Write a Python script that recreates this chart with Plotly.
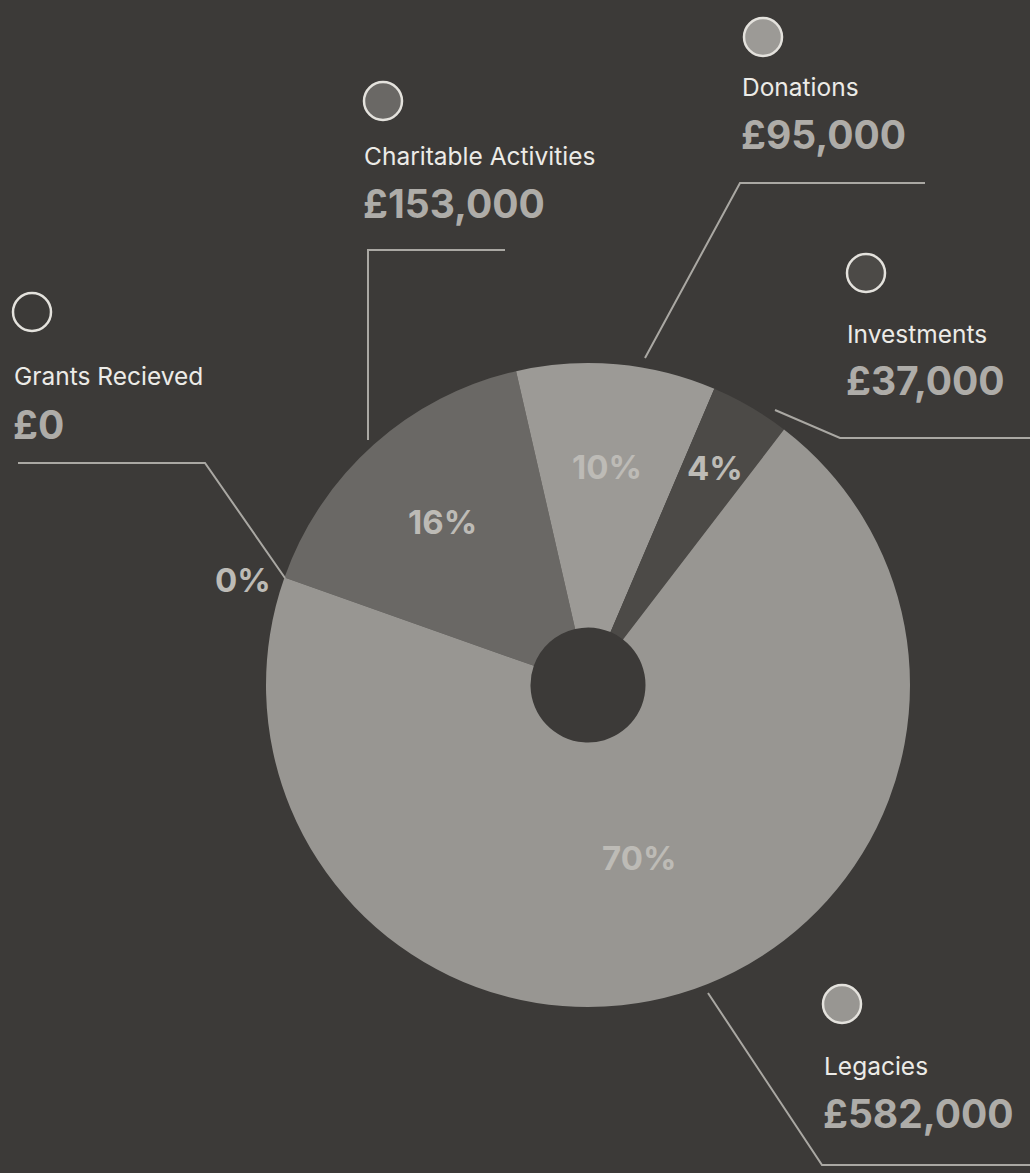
import math
import plotly.graph_objects as go

# Income sources, amounts and their share of the total
CATEGORIES = ["Grants Recieved", "Charitable Activities", "Donations", "Investments", "Legacies"]
AMOUNTS = ["£0", "£153,000", "£95,000", "£37,000", "£582,000"]
SHARES = [0, 16, 10, 4, 70]  # percent

SLICE_COLORS = ["#3c3a38", "#6a6865", "#9c9a96", "#4c4a47", "#989692"]

W, H = 1030, 1173
BG = "#3c3a38"
LINE = "#aaa8a3"
NAME_COLOR = "#ecebe7"
VALUE_COLOR = "#aeaca8"
PCT_COLOR = "#bdbbb6"
FONT = "Inter"

# pie geometry (pixels)
CX, CY, R = 588, 685, 322
HOLE_R = 57.5
ROTATION = -70.5


def px(x):
    return x / W


def py(y):
    return 1 - y / H


fig = go.Figure()
fig.add_trace(go.Pie(
    labels=CATEGORIES,
    values=SHARES,
    sort=False,
    direction="clockwise",
    rotation=ROTATION,
    hole=HOLE_R / R,
    textinfo="none",
    hoverinfo="label+percent",
    marker=dict(colors=SLICE_COLORS, line=dict(width=0)),
    domain=dict(x=[px(CX - R), px(CX + R)], y=[py(CY + R), py(CY - R)]),
    showlegend=False,
))

# percentage labels placed along each slice's mid-angle
LABEL_RADIUS = [1.12, 0.68, 0.68, 0.78, 0.56]
annotations = []
total = sum(SHARES)
start = ROTATION
for share, rf in zip(SHARES, LABEL_RADIUS):
    span = 360 * share / total
    mid = start + span / 2
    if share == 0:
        mid = start - 2.5
    a = math.radians(mid)
    lx = CX + rf * R * math.sin(a)
    ly = CY - rf * R * math.cos(a)
    annotations.append(dict(
        x=px(lx), y=py(ly), xref="paper", yref="paper",
        text=f"<b>{share}%</b>", showarrow=False,
        font=dict(family=FONT, size=33, color=PCT_COLOR),
        xanchor="center", yanchor="middle",
    ))
    start += span

# callout blocks: marker circle, name and amount
BLOCKS = [
    (32, 312, 14, 376, 424),
    (383, 101, 364, 156, 203),
    (763, 37, 742, 87, 135),
    (866, 273, 847, 334, 381),
    (842, 1004, 824, 1066, 1113),
]
shapes = []
for (ccx, ccy, tx, ny, vy), name, amount, col in zip(BLOCKS, CATEGORIES, AMOUNTS, SLICE_COLORS):
    shapes.append(dict(
        type="circle", xref="paper", yref="paper",
        x0=px(ccx - 19), x1=px(ccx + 19), y0=py(ccy + 19), y1=py(ccy - 19),
        fillcolor=col, line=dict(color="#e4e2dd", width=2.5),
    ))
    annotations.append(dict(
        x=px(tx - 2), y=py(ny), xref="paper", yref="paper", text=name,
        showarrow=False, xanchor="left", yanchor="middle",
        font=dict(family=FONT, size=24.5, color=NAME_COLOR),
    ))
    annotations.append(dict(
        x=px(tx - 3), y=py(vy), xref="paper", yref="paper", text=f"<b>{amount}</b>",
        showarrow=False, xanchor="left", yanchor="middle",
        font=dict(family=FONT, size=39, color=VALUE_COLOR),
    ))

# leader lines from the pie to each callout
LEADERS = [
    [(285, 578), (205, 463), (18, 463)],
    [(368, 440), (368, 250), (505, 250)],
    [(645, 358), (740, 183), (925, 183)],
    [(775, 410), (840, 438), (1030, 438)],
    [(708, 993), (822, 1165), (1030, 1165)],
]
for pts in LEADERS:
    path = "M " + " L ".join(f"{px(x):.5f},{py(y):.5f}" for x, y in pts)
    shapes.append(dict(type="path", xref="paper", yref="paper", path=path,
                       line=dict(color=LINE, width=2)))

fig.update_layout(
    width=W, height=H,
    margin=dict(l=0, r=0, t=0, b=0),
    paper_bgcolor=BG, plot_bgcolor=BG,
    shapes=shapes, annotations=annotations,
)

fig.write_html("out.html")
